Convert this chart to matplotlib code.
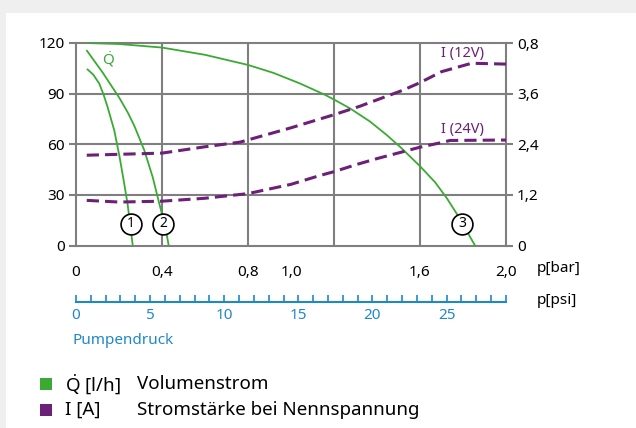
import matplotlib
matplotlib.use("Agg")
import matplotlib.pyplot as plt
from matplotlib.patches import Rectangle

plt.rcParams['font.family'] = ['Noto Sans', 'DejaVu Sans']
plt.rcParams['mathtext.fontset'] = 'custom'
plt.rcParams['mathtext.rm'] = 'Noto Sans'

# pump curves, Q [l/h] over p [bar]
q1_p = [0.054, 0.08, 0.108, 0.128, 0.147, 0.178, 0.2015, 0.222, 0.240, 0.264]
q1_v = [104.3, 101.3, 96, 89.5, 82, 68.2, 53.3, 38.4, 24.5, 0]
q2_p = [0.051, 0.124, 0.2015, 0.24, 0.271, 0.318, 0.357, 0.387, 0.415, 0.431]
q2_v = [115.4, 102.5, 87.5, 79, 71, 56.3, 40.4, 25, 11.5, 0]
q3_p = [0.05, 0.2, 0.4, 0.6, 0.8, 0.918, 1.042, 1.158, 1.2, 1.274, 1.367,
        1.445, 1.507, 1.6, 1.67, 1.725, 1.77, 1.856]
q3_v = [120, 119.4, 117.3, 113, 107, 102.3, 96, 89.3, 86.5, 81.3, 73.5,
        65.5, 58.5, 47, 37.5, 28, 19, 0]

# current [A] over p [bar]
i12_p = [0.05, 0.4, 0.6, 0.763, 1.0, 1.2, 1.32, 1.52, 1.6, 1.7, 1.84, 2.0]
i12_v = [2.14, 2.19, 2.34, 2.45, 2.79, 3.1, 3.3, 3.68, 3.86, 4.12, 4.32, 4.3]
i24_p = [0.05, 0.2, 0.4, 0.6, 0.8, 1.0, 1.135, 1.2, 1.305, 1.4, 1.6, 1.7, 1.74, 2.0]
i24_v = [1.07, 1.03, 1.05, 1.12, 1.23, 1.45, 1.66, 1.75, 1.92, 2.06, 2.33, 2.44, 2.49, 2.5]

# circle markers (p, Q, label)
marks = [(0.256, 13, '1'), (0.4045, 13, '2'), (1.797, 13, '3')]

bar_ticks = [0, 0.4, 0.8, 1.0, 1.6, 2.0]
bar_labels = ['0', '0,4', '0,8', '1,0', '1,6', '2,0']
bar_grid = [0.4, 0.8, 1.2, 1.6]
q_ticks = [0, 30, 60, 90, 120]
i_ticks = [0, 1.2, 2.4, 3.6, 4.8]
i_labels = ['0', '1,2', '2,4', '3,6', '0,8']
psi_labels = [0, 5, 10, 15, 20, 25]

green = '#3aaa35'
purple = '#6d2077'
blue = '#1f88c9'
grey = '#7f7f7f'
qdot = r'$\dot{\mathrm{Q}}$'

W, H = 636, 428
fig = plt.figure(figsize=(W / 100, H / 100), dpi=100)
fig.patch.set_facecolor('#efefef')
fig.patches.append(Rectangle((6 / W, 0), 1, 1 - 13 / H, transform=fig.transFigure,
                             facecolor='white', edgecolor='none', zorder=-5))

ax = fig.add_axes([76 / W, (H - 245.5) / H, 430 / W, 202.5 / H])
ax.set_facecolor('none')
ax.set_xlim(0, 2.0)
ax.set_ylim(0, 120)
for x in bar_grid:
    ax.axvline(x, color=grey, lw=1.5, zorder=1)
for y in q_ticks[1:-1]:
    ax.axhline(y, color=grey, lw=1.5, zorder=1)
for s in ax.spines.values():
    s.set_color(grey)
    s.set_linewidth(1.5)
ax.set_xticks(bar_ticks)
ax.set_xticklabels(bar_labels)
ax.tick_params(axis='x', length=0, pad=14, labelsize=11)
ax.set_yticks(q_ticks)
ax.tick_params(axis='y', length=5, width=1.5, color=grey, pad=3, labelsize=11)

ax.plot(q1_p, q1_v, color=green, lw=1.3, zorder=3)
ax.plot(q2_p, q2_v, color=green, lw=1.3, zorder=3)
ax.plot(q3_p, q3_v, color=green, lw=1.3, zorder=3)
for p, q, t in marks:
    ax.plot(p, q, 'o', ms=15, mfc='white', mec='black', mew=1.2, zorder=4)
    ax.text(p, q, t, ha='center', va='center', fontsize=10, zorder=5)
ax.text(0.15, 110.5, qdot, color=green, fontsize=11, ha='center', va='center')

ax2 = ax.twinx()
ax2.set_ylim(0, 4.8)
ax2.set_yticks(i_ticks)
ax2.set_yticklabels(i_labels)
ax2.tick_params(axis='y', length=5, width=1.5, color=grey, pad=3, labelsize=11)
for s in ax2.spines.values():
    s.set_visible(False)
ax2.plot(i12_p, i12_v, color=purple, lw=2.2, dashes=(4, 2))
ax2.plot(i24_p, i24_v, color=purple, lw=2.2, dashes=(4, 2))
ax2.text(1.7, 4.56, 'I (12V)', color=purple, fontsize=10.5, va='center')
ax2.text(1.7, 2.75, 'I (24V)', color=purple, fontsize=10.5, va='center')

fig.text(537 / W, 1 - 268 / H, 'p[bar]', fontsize=11, va='center')
fig.text(537 / W, 1 - 300 / H, 'p[psi]', fontsize=11, va='center')

# psi scale under the chart
axp = fig.add_axes([76 / W, (H - 302) / H, 430 / W, 0.01])
axp.set_facecolor('none')
axp.set_xlim(0, 2.0 / 0.0689476)
axp.set_yticks([])
for k in ['top', 'left', 'right']:
    axp.spines[k].set_visible(False)
axp.spines['bottom'].set_color(blue)
axp.spines['bottom'].set_linewidth(1.5)
axp.spines['bottom'].set_bounds(0, 29)
axp.set_xticks(psi_labels)
axp.set_xticks(range(30), minor=True)
axp.tick_params(axis='x', which='both', direction='in', length=5, width=1.2,
                color=blue, labelcolor=blue, labelsize=11, pad=4)
fig.text(73 / W, 1 - 341 / H, 'Pumpendruck', color=blue, fontsize=11, va='center')

# legend
fig.patches.append(Rectangle((40 / W, 1 - 390 / H), 12 / W, 12 / H, transform=fig.transFigure,
                             facecolor=green, edgecolor='none'))
fig.patches.append(Rectangle((40 / W, 1 - 416 / H), 12 / W, 12 / H, transform=fig.transFigure,
                             facecolor=purple, edgecolor='none'))
fig.text(65 / W, 1 - 384 / H, qdot + ' [l/h]', fontsize=13.5, va='center')
fig.text(137 / W, 1 - 384 / H, 'Volumenstrom', fontsize=13.5, va='center')
fig.text(65 / W, 1 - 410 / H, 'I [A]', fontsize=13.5, va='center')
fig.text(137 / W, 1 - 410 / H, 'Stromstärke bei Nennspannung', fontsize=13.5, va='center')

fig.savefig('out.png', dpi=100)
